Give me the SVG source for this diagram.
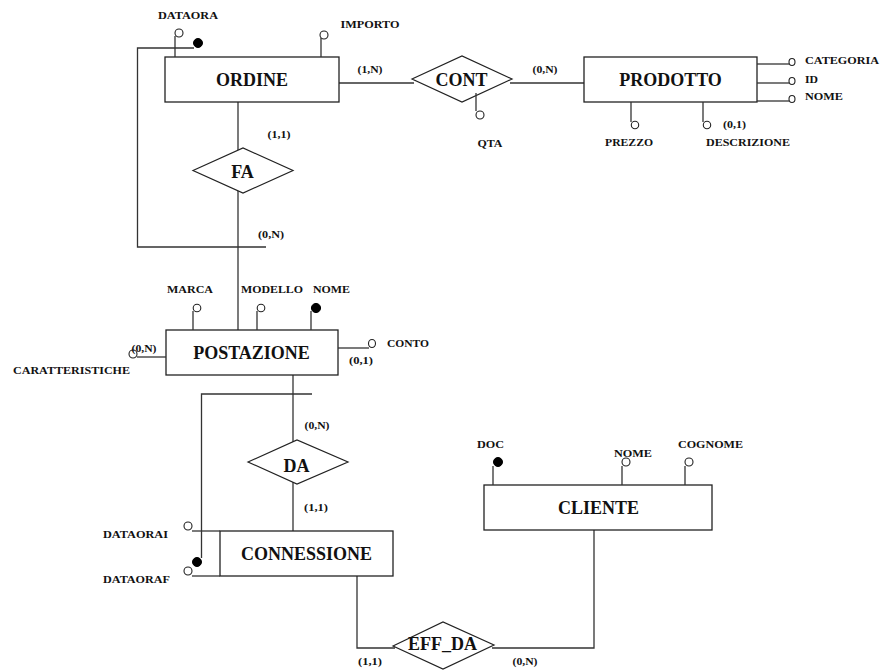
<svg xmlns="http://www.w3.org/2000/svg" width="884" height="670" viewBox="0 0 884 670">
<style>
.bg{fill:#fff}
.box{fill:#fff;stroke:#222;stroke-width:1.3}
.rel{fill:#fff;stroke:#222;stroke-width:1.2}
.ln{fill:none;stroke:#333;stroke-width:1.3}
.oc{fill:#fff;stroke:#222;stroke-width:1.1}
.fc{fill:#000;stroke:#000;stroke-width:1}
.big{font-family:"Liberation Serif","Times New Roman",serif;font-weight:bold;font-size:18px;text-anchor:middle;fill:#111}
.sm{font-family:"Liberation Serif","Times New Roman",serif;font-weight:bold;font-size:10px;text-anchor:middle;fill:#111}
</style>
<rect class="bg" x="0" y="0" width="884" height="670"/>
<g id="connectors">
<line class="ln" x1="339" y1="83" x2="414" y2="83"/>
<line class="ln" x1="510" y1="83" x2="584" y2="83"/>
<line class="ln" x1="238" y1="102" x2="238" y2="150"/>
<line class="ln" x1="238" y1="190" x2="238" y2="330"/>
<polyline class="ln" points="194,48 137.5,48 137.5,247 266,247"/>
<line class="ln" x1="293" y1="375" x2="293" y2="443"/>
<line class="ln" x1="293" y1="482" x2="293" y2="531"/>
<polyline class="ln" points="312,394 201.5,394 201.5,558"/>
<polyline class="ln" points="357,576 357,648 395,648"/>
<polyline class="ln" points="594,530 594,648 492,648"/>
<text class="sm" x="370" y="73.3" textLength="25" lengthAdjust="spacingAndGlyphs">(1,N)</text>
<text class="sm" x="545" y="73.3" textLength="25" lengthAdjust="spacingAndGlyphs">(0,N)</text>
<text class="sm" x="279" y="137.5" textLength="23" lengthAdjust="spacingAndGlyphs">(1,1)</text>
<text class="sm" x="271" y="237.5" textLength="26" lengthAdjust="spacingAndGlyphs">(0,N)</text>
<text class="sm" x="317" y="428.5" textLength="25" lengthAdjust="spacingAndGlyphs">(0,N)</text>
<text class="sm" x="316" y="510.5" textLength="24" lengthAdjust="spacingAndGlyphs">(1,1)</text>
<text class="sm" x="370" y="665" textLength="24" lengthAdjust="spacingAndGlyphs">(1,1)</text>
<text class="sm" x="525" y="665" textLength="25" lengthAdjust="spacingAndGlyphs">(0,N)</text>
</g>
<g id="ordine">
<rect class="box" x="165" y="57" width="174" height="45"/>
<text class="big" x="252" y="86">ORDINE</text>
<line class="ln" x1="175" y1="57" x2="175" y2="36"/>
<circle class="oc" cx="179" cy="33" r="4"/>
<text class="sm" x="188" y="19" textLength="60" lengthAdjust="spacingAndGlyphs">DATAORA</text>
<circle class="fc" cx="198" cy="43" r="4.5"/>
<line class="ln" x1="321" y1="57" x2="321" y2="38"/>
<circle class="oc" cx="324" cy="35" r="4"/>
<text class="sm" x="370" y="28" textLength="59" lengthAdjust="spacingAndGlyphs">IMPORTO</text>
</g>
<g id="cont">
<polygon class="rel" points="412,79 462,56 512,79 462,102"/>
<text class="big" x="461.5" y="85.5">CONT</text>
<line class="ln" x1="476" y1="93" x2="476" y2="111"/>
<circle class="oc" cx="480" cy="115" r="4"/>
<text class="sm" x="490" y="146.5" textLength="25" lengthAdjust="spacingAndGlyphs">QTA</text>
</g>
<g id="prodotto">
<rect class="box" x="584" y="57" width="173" height="45"/>
<text class="big" x="670.5" y="85.5">PRODOTTO</text>
<line class="ln" x1="757" y1="64" x2="789" y2="64"/>
<ellipse class="oc" cx="792" cy="62" rx="3" ry="3.5"/>
<text class="sm" x="842" y="64" textLength="74" lengthAdjust="spacingAndGlyphs">CATEGORIA</text>
<line class="ln" x1="757" y1="83" x2="789" y2="83"/>
<ellipse class="oc" cx="792" cy="81" rx="3" ry="3.5"/>
<text class="sm" x="811.5" y="83" textLength="13" lengthAdjust="spacingAndGlyphs">ID</text>
<line class="ln" x1="757" y1="101" x2="789" y2="101"/>
<ellipse class="oc" cx="792" cy="99" rx="3" ry="3.5"/>
<text class="sm" x="824" y="100" textLength="38" lengthAdjust="spacingAndGlyphs">NOME</text>
<line class="ln" x1="631" y1="102" x2="631" y2="122"/>
<circle class="oc" cx="635" cy="125" r="3.7"/>
<text class="sm" x="629" y="146" textLength="48" lengthAdjust="spacingAndGlyphs">PREZZO</text>
<line class="ln" x1="703" y1="102" x2="703" y2="122"/>
<circle class="oc" cx="707" cy="125" r="3.7"/>
<text class="sm" x="734.5" y="127.5" textLength="23" lengthAdjust="spacingAndGlyphs">(0,1)</text>
<text class="sm" x="748" y="146" textLength="84" lengthAdjust="spacingAndGlyphs">DESCRIZIONE</text>
</g>
<g id="fa">
<polygon class="rel" points="193,170.5 243,148 293,170.5 243,193"/>
<text class="big" x="242.5" y="177.5">FA</text>
</g>
<g id="postazione">
<rect class="box" x="166" y="330" width="172" height="45"/>
<text class="big" x="251.5" y="359">POSTAZIONE</text>
<line class="ln" x1="193" y1="330" x2="193" y2="311"/>
<circle class="oc" cx="197" cy="308" r="3.8"/>
<text class="sm" x="190" y="292.5" textLength="46" lengthAdjust="spacingAndGlyphs">MARCA</text>
<line class="ln" x1="257" y1="330" x2="257" y2="311"/>
<circle class="oc" cx="261" cy="308" r="3.8"/>
<text class="sm" x="272" y="292.5" textLength="62" lengthAdjust="spacingAndGlyphs">MODELLO</text>
<line class="ln" x1="311" y1="330" x2="311" y2="311"/>
<circle class="fc" cx="316" cy="308" r="4.6"/>
<text class="sm" x="331.5" y="292.5" textLength="37" lengthAdjust="spacingAndGlyphs">NOME</text>
<line class="ln" x1="166" y1="357" x2="137" y2="357"/>
<circle class="oc" cx="133" cy="354" r="4"/>
<text class="sm" x="144" y="351.5" textLength="25" lengthAdjust="spacingAndGlyphs">(0,N)</text>
<text class="sm" x="71.5" y="374" textLength="117" lengthAdjust="spacingAndGlyphs">CARATTERISTICHE</text>
<line class="ln" x1="338" y1="348" x2="369" y2="348"/>
<ellipse class="oc" cx="372" cy="343.5" rx="3.5" ry="4"/>
<text class="sm" x="408" y="346.5" textLength="42" lengthAdjust="spacingAndGlyphs">CONTO</text>
<text class="sm" x="361" y="364" textLength="24" lengthAdjust="spacingAndGlyphs">(0,1)</text>
</g>
<g id="da">
<polygon class="rel" points="248,462 297,440 348,462 297,484"/>
<text class="big" x="296.5" y="471.5">DA</text>
</g>
<g id="connessione">
<rect class="box" x="220" y="531" width="173" height="45"/>
<text class="big" x="306.5" y="560">CONNESSIONE</text>
<line class="ln" x1="220" y1="531" x2="192" y2="531"/>
<circle class="oc" cx="188" cy="526" r="4"/>
<text class="sm" x="135.5" y="538" textLength="65" lengthAdjust="spacingAndGlyphs">DATAORAI</text>
<line class="ln" x1="220" y1="576" x2="192" y2="576"/>
<circle class="oc" cx="188" cy="571" r="4"/>
<text class="sm" x="136.5" y="583" textLength="67" lengthAdjust="spacingAndGlyphs">DATAORAF</text>
<circle class="fc" cx="197" cy="562" r="4.5"/>
</g>
<g id="cliente">
<rect class="box" x="484" y="485" width="228" height="45"/>
<text class="big" x="598.5" y="514">CLIENTE</text>
<line class="ln" x1="493" y1="485" x2="493" y2="466"/>
<circle class="fc" cx="498" cy="462" r="4.5"/>
<text class="sm" x="490.5" y="448" textLength="27" lengthAdjust="spacingAndGlyphs">DOC</text>
<line class="ln" x1="622" y1="485" x2="622" y2="466"/>
<circle class="oc" cx="626" cy="462" r="4"/>
<text class="sm" x="633" y="456.5" textLength="38" lengthAdjust="spacingAndGlyphs">NOME</text>
<line class="ln" x1="685" y1="485" x2="685" y2="466"/>
<circle class="oc" cx="689" cy="462" r="4"/>
<text class="sm" x="710.5" y="447.5" textLength="65" lengthAdjust="spacingAndGlyphs">COGNOME</text>
</g>
<g id="eff_da">
<polygon class="rel" points="393,646 443,622 494,645 443,669"/>
<text class="big" x="442.5" y="650">EFF_DA</text>
</g>
</svg>
